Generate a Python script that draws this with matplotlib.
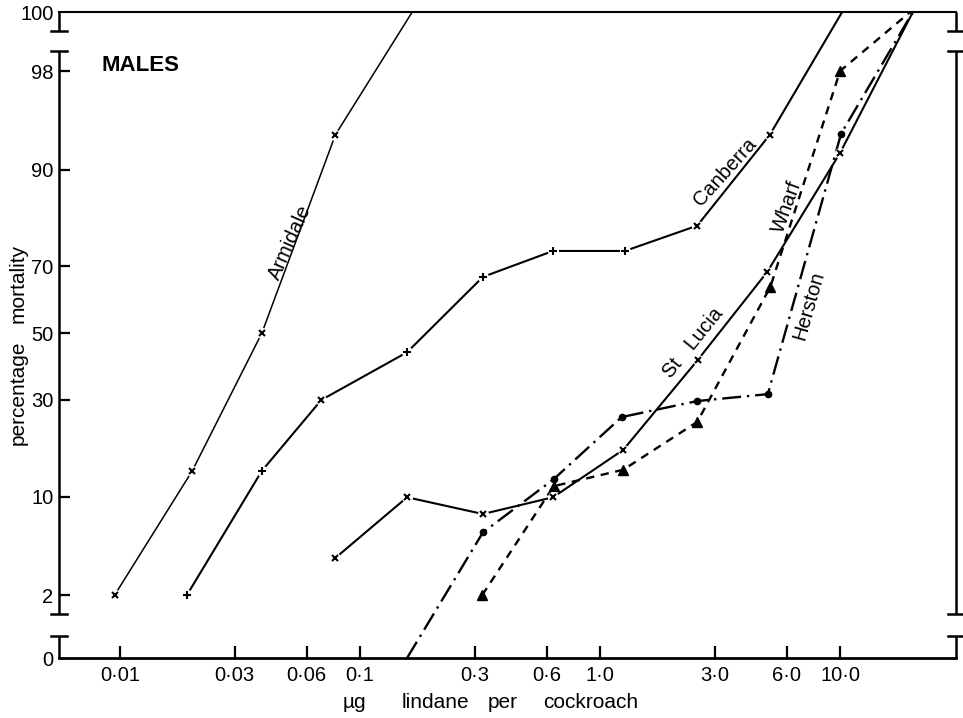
from statistics import NormalDist

import matplotlib
matplotlib.use("Agg")
import matplotlib.pyplot as plt
import numpy as np

matplotlib.rc("font", family="Liberation Sans", size=14)

# dose (ug lindane per cockroach) and percentage mortality
# last point of each series is where the line runs into the 0 / 100 edge
armidale_x = [0.0095, 0.020, 0.039, 0.079, 0.165]
armidale_p = [2, 14, 50, 94, 100]

canberra_x = [0.019, 0.039, 0.069, 0.157, 0.325, 0.637, 1.27, 2.54, 5.1, 10.2]
canberra_p = [2, 14, 30, 44, 67, 74, 74, 80, 94, 100]
canberra_m = ["+", "+", "x", "+", "+", "+", "+", "x", "x"]

stlucia_x = [0.079, 0.157, 0.325, 0.637, 1.25, 2.55, 4.97, 10.0, 20.1]
stlucia_p = [3.9, 9.9, 7.8, 9.9, 18.0, 41.6, 68.4, 92.1, 100]

wharf_x = [0.323, 0.641, 1.25, 2.54, 5.12, 10.0, 19.6]
wharf_p = [2, 11.5, 14.2, 24.3, 64.1, 98.0, 100]

herston_x = [0.157, 0.325, 0.641, 1.23, 2.54, 5.0, 10.1, 20.1]
herston_p = [0, 5.9, 12.6, 25.5, 29.7, 31.6, 94.1, 100]

x_ticks = [0.01, 0.03, 0.06, 0.1, 0.3, 0.6, 1.0, 3.0, 6.0, 10.0]
x_labels = ["0·01", "0·03", "0·06", "0·1", "0·3", "0·6", "1·0", "3·0", "6·0", "10·0"]
y_ticks = [0, 2, 10, 30, 50, 70, 90, 98, 100]

# probit scale, 0 and 100 pinned to the broken ends of the axis
LO, HI = 0.00543, 0.99407
_nd = NormalDist()
_inv = np.vectorize(_nd.inv_cdf, otypes=[float])
_cdf = np.vectorize(_nd.cdf, otypes=[float])


def probit(p):
    return _inv(np.clip(np.asarray(p, dtype=float) / 100.0, LO, HI))


def unprobit(z):
    return 100.0 * _cdf(np.asarray(z, dtype=float))


fig = plt.figure(figsize=(9.63, 7.18), dpi=100)
ax = fig.add_axes([59 / 963, 1 - 658 / 718, 897 / 963, 646 / 718])
ax.set_xscale("log")
ax.set_yscale("function", functions=(probit, unprobit))
ax.set_xlim(0.00557, 30.4)
ax.set_ylim(0, 100)

gap = dict(marker="o", ms=8, mfc="white", mec="none", ls="none", zorder=3)

ax.plot(armidale_x, armidale_p, color="k", lw=1.1, zorder=2)
ax.plot(armidale_x[:4], armidale_p[:4], **gap)
ax.plot(armidale_x[:4], armidale_p[:4], "kx", ms=5, mew=1.5, zorder=4)

ax.plot(canberra_x, canberra_p, color="k", lw=1.5, zorder=2)
ax.plot(canberra_x[:9], canberra_p[:9], **gap)
for x, p, m in zip(canberra_x, canberra_p, canberra_m):
    ax.plot(x, p, color="k", marker=m, ms=6 if m == "+" else 5, mew=1.5, zorder=4)

ax.plot(stlucia_x, stlucia_p, color="k", lw=1.5, zorder=2)
ax.plot(stlucia_x[:8], stlucia_p[:8], **gap)
ax.plot(stlucia_x[:8], stlucia_p[:8], "kx", ms=5, mew=1.5, zorder=4)

ax.plot(wharf_x, wharf_p, color="k", lw=1.7, ls=(0, (3.5, 2.8)),
        marker="^", ms=7, markevery=slice(0, 6), zorder=2)

ax.plot(herston_x, herston_p, color="k", lw=1.7, ls=(0, (8, 2.5, 1, 2.5)),
        marker="o", ms=4.5, markevery=slice(1, 7), zorder=2)

# series names along the lines
lab = dict(ha="center", va="center", rotation_mode="anchor", fontsize=14.5)
ax.text(0.0511, 76.2, "Armidale", rotation=66, **lab)
ax.text(3.33, 89.6, "Canberra", rotation=48, **lab)
ax.text(6.0, 83.8, "Wharf", rotation=70, **lab)
ax.text(2.44, 46.9, "St   Lucia", rotation=51, **lab)
ax.text(7.44, 58.4, "Herston", rotation=74, **lab)
ax.text(0.0084, 98.2, "MALES", ha="left", va="center", fontsize=16,
        fontweight="bold")

# ticks
ax.set_xticks(x_ticks)
ax.set_xticklabels(x_labels)
ax.xaxis.set_minor_locator(matplotlib.ticker.NullLocator())
ax.set_yticks(y_ticks)
ax.set_yticklabels([str(v) for v in y_ticks])
ax.yaxis.set_minor_locator(matplotlib.ticker.NullLocator())
ax.tick_params(axis="x", direction="in", length=9, width=1.6, pad=6, labelsize=14.5)
ax.tick_params(axis="y", direction="in", length=8, width=1.6, pad=4, labelsize=14.5)
for t in (ax.yaxis.get_major_ticks()[0], ax.yaxis.get_major_ticks()[-1]):
    t.tick1line.set_visible(False)

# broken side axes drawn by hand
ax.spines["left"].set_visible(False)
ax.spines["right"].set_visible(False)
ax.spines["bottom"].set_linewidth(2.0)
ax.spines["top"].set_linewidth(1.5)
H, W = 646.0, 897.0
cap = 8 / W
segs = [(1.0, (658 - 31) / H), ((658 - 51) / H, (658 - 614) / H), ((658 - 636) / H, 0.0)]
for xs in (0.0, 1.0):
    for i, (y0, y1) in enumerate(segs):
        ax.plot([xs, xs], [y0, y1], color="k", lw=1.8, transform=ax.transAxes,
                clip_on=False, solid_capstyle="butt")
        if i > 0:
            ax.plot([xs - cap, xs + cap], [y0, y0], color="k", lw=1.8,
                    transform=ax.transAxes, clip_on=False)
        if i < 2:
            ax.plot([xs - cap, xs + cap], [y1, y1], color="k", lw=1.8,
                    transform=ax.transAxes, clip_on=False)

# axis titles
fig.text(18 / 963, 1 - 393 / 718, "percentage", rotation=90,
         ha="center", va="center", fontsize=15)
fig.text(18 / 963, 1 - 283 / 718, "mortality", rotation=90,
         ha="center", va="center", fontsize=15)
for px, word in [(343, "µg"), (402, "lindane"), (488, "per"), (543, "cockroach")]:
    fig.text(px / 963, 1 - 703 / 718, word, ha="left", va="center", fontsize=15)

plt.savefig("out.png", dpi=100)
